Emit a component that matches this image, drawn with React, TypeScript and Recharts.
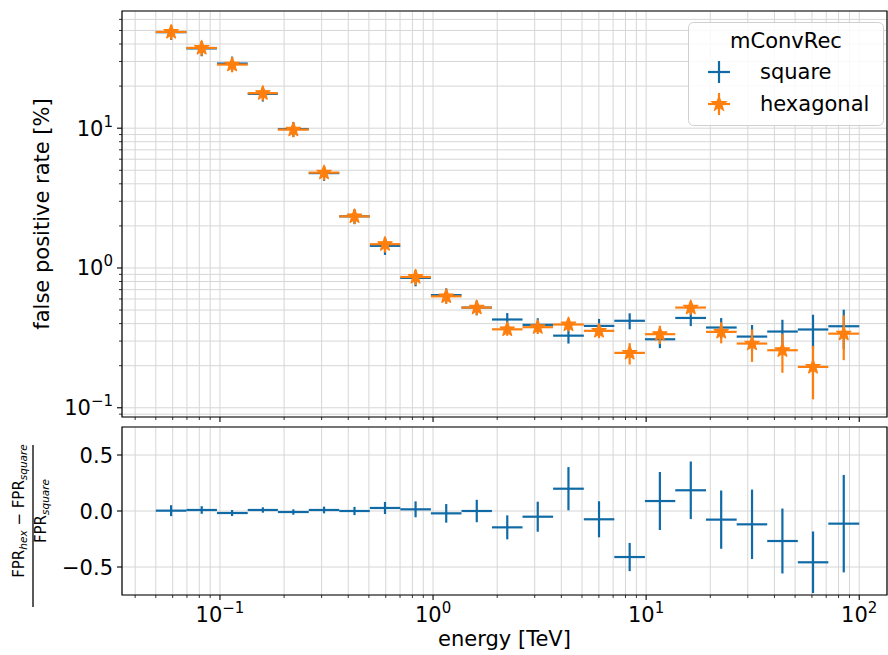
import React from "react";
import { CartesianGrid, ErrorBar, ReferenceArea, Scatter, ScatterChart, XAxis, YAxis } from "recharts";

// energy binning [TeV] (7 bins per decade)
const binEdges = [0.05, 0.0696, 0.0968, 0.135, 0.187, 0.261, 0.363, 0.505, 0.702, 0.977, 1.36, 1.89, 2.63, 3.66, 5.1, 7.09, 9.87, 13.7, 19.1, 26.6, 37.0, 51.5, 71.6, 100];
const energy = [0.059, 0.0821, 0.114, 0.159, 0.221, 0.308, 0.428, 0.595, 0.828, 1.153, 1.604, 2.23, 3.1, 4.32, 6.01, 8.37, 11.6, 16.2, 22.5, 31.4, 43.6, 60.7, 84.6];

// false positive rate [%]
const squareFpr = [48.6, 37.2, 29.0, 17.6, 9.86, 4.77, 2.34, 1.44, 0.849, 0.64, 0.521, 0.428, 0.392, 0.328, 0.385, 0.419, 0.309, 0.439, 0.375, 0.323, 0.351, 0.363, 0.383];
const squareErr = [5.8, 4.5, 3.5, 2.1, 1.2, 0.57, 0.28, 0.2, 0.11, 0.075, 0.062, 0.048, 0.045, 0.04, 0.047, 0.055, 0.042, 0.055, 0.063, 0.068, 0.075, 0.1, 0.12];
const hexFpr = [48.8, 37.5, 28.5, 17.8, 9.77, 4.81, 2.34, 1.48, 0.862, 0.627, 0.521, 0.364, 0.377, 0.394, 0.355, 0.247, 0.336, 0.521, 0.349, 0.288, 0.258, 0.196, 0.339];
const hexErr = [5.8, 4.5, 3.4, 2.1, 1.15, 0.57, 0.28, 0.19, 0.11, 0.075, 0.062, 0.037, 0.04, 0.042, 0.04, 0.043, 0.05, 0.058, 0.06, 0.075, 0.08, 0.081, 0.12];

// (FPR_hex - FPR_square) / FPR_square
const relDiff = [0.003, 0.009, -0.018, 0.009, -0.009, 0.009, 0.0, 0.027, 0.015, -0.021, 0.0, -0.146, -0.051, 0.199, -0.074, -0.411, 0.089, 0.185, -0.077, -0.119, -0.268, -0.458, -0.113];
const relDiffErr = [0.049, 0.034, 0.027, 0.024, 0.024, 0.03, 0.037, 0.054, 0.071, 0.083, 0.1, 0.107, 0.134, 0.193, 0.161, 0.126, 0.259, 0.257, 0.26, 0.31, 0.29, 0.275, 0.435];

// axis ticks (major + minor, log axes)
const energyTicks = [0.04, 0.05, 0.06, 0.07, 0.08, 0.09, 0.1, 0.2, 0.3, 0.4, 0.5, 0.6, 0.7, 0.8, 0.9, 1, 2, 3, 4, 5, 6, 7, 8, 9, 10, 20, 30, 40, 50, 60, 70, 80, 90, 100];
const fprTicks = [0.09, 0.1, 0.2, 0.3, 0.4, 0.5, 0.6, 0.7, 0.8, 0.9, 1, 2, 3, 4, 5, 6, 7, 8, 9, 10, 20, 30, 40, 50, 60];
const diffTicks = [-0.5, 0, 0.5];

const energyDomain = [0.0347, 135];
const fprDomain = [0.0859, 68.9];
const diffDomain = [-0.75, 0.75];

const BLUE = "#0f6aa6";
const ORANGE = "#ff7f0e";
const GRID = "#d6d6d6";
const FONT = "DejaVu Sans";
const FS = 21;

const rows = (ys: number[], errs: number[]) =>
  energy.map((e, i) => ({
    x: e,
    y: ys[i],
    xErr: [e - binEdges[i], binEdges[i + 1] - e],
    yErr: errs[i],
  }));

const squareRows = rows(squareFpr, squareErr);
const hexRows = rows(hexFpr, hexErr);
const diffRows = rows(relDiff, relDiffErr);

function isMajor(v: number) {
  const l = Math.log10(v);
  return Math.abs(l - Math.round(l)) < 1e-6;
}

function expLabel(v: number) {
  return String(Math.round(Math.log10(v))).replace("-", "\u2212");
}

function starPoints(cx: number, cy: number, r: number) {
  const pts: string[] = [];
  for (let i = 0; i < 10; i++) {
    const a = -Math.PI / 2 + (i * Math.PI) / 5;
    const rr = i % 2 === 0 ? r : r * 0.42;
    pts.push(`${cx + rr * Math.cos(a)},${cy + rr * Math.sin(a)}`);
  }
  return pts.join(" ");
}

const Star = (props: any) => {
  const { cx, cy } = props;
  if (cx == null || cy == null) return <g />;
  return <polygon points={starPoints(cx, cy, 7.5)} fill={ORANGE} stroke={ORANGE} strokeWidth={1.2} strokeLinejoin="round" />;
};

const NoMarker = () => <g />;

const Pow10 = ({ x, y, exp, anchor }: { x: number; y: number; exp: string; anchor: "middle" | "end" }) => (
  <text x={x} y={y} textAnchor={anchor} fontFamily={FONT} fontSize={FS} fill="#000">
    <tspan>10</tspan>
    <tspan dy={-9} fontSize={15}>{exp}</tspan>
  </text>
);

const EnergyTick = (props: any) => {
  const { x, y, payload, withLabels } = props;
  const v = payload.value;
  const major = isMajor(v);
  return (
    <g>
      <line x1={x} x2={x} y1={y} y2={y + (major ? 5 : 3)} stroke="#000" strokeWidth={major ? 1.1 : 0.8} />
      {withLabels && major && <Pow10 x={x} y={y + 27} exp={expLabel(v)} anchor="middle" />}
    </g>
  );
};

const FprTick = (props: any) => {
  const { x, y, payload } = props;
  const v = payload.value;
  const major = isMajor(v);
  return (
    <g>
      <line x1={x - (major ? 5 : 3)} x2={x} y1={y} y2={y} stroke="#000" strokeWidth={major ? 1.1 : 0.8} />
      {major && <Pow10 x={x - 9} y={y + 7.5} exp={expLabel(v)} anchor="end" />}
    </g>
  );
};

const DiffTick = (props: any) => {
  const { x, y, payload } = props;
  const v = payload.value as number;
  return (
    <g>
      <line x1={x - 5} x2={x} y1={y} y2={y} stroke="#000" strokeWidth={1.1} />
      <text x={x - 9} y={y + 7.5} textAnchor="end" fontFamily={FONT} fontSize={FS} fill="#000">
        {v.toFixed(1).replace("-", "\u2212")}
      </text>
    </g>
  );
};

const FprLabel = () => (
  <text transform="translate(42,214) rotate(-90)" textAnchor="middle" dominantBaseline="central" fontFamily={FONT} fontSize={FS} fill="#000">
    false positive rate [%]
  </text>
);

const EnergyLabel = () => (
  <text x={504.5} y={221} textAnchor="middle" fontFamily={FONT} fontSize={FS} fill="#000">
    energy [TeV]
  </text>
);

const DiffLabel = () => (
  <g fontFamily={FONT} fill="#000">
    <text transform="translate(24,86) rotate(-90)" textAnchor="middle" fontSize={15}>
      <tspan>FPR</tspan>
      <tspan fontSize={10.5} fontStyle="italic" dy={3}>hex</tspan>
      <tspan dy={-3}> {"\u2212"} FPR</tspan>
      <tspan fontSize={10.5} fontStyle="italic" dy={3}>square</tspan>
    </text>
    <line x1={33} x2={33} y1={20} y2={182} stroke="#000" strokeWidth={1.3} />
    <text transform="translate(46,86) rotate(-90)" textAnchor="middle" fontSize={15}>
      <tspan>FPR</tspan>
      <tspan fontSize={10.5} fontStyle="italic" dy={3}>square</tspan>
    </text>
  </g>
);

const Legend = () => (
  <svg
    width={196}
    height={104}
    style={{ position: "absolute", left: 688, top: 22 }}
  >
    <rect x={0.5} y={0.5} width={195} height={103} rx={5} fill="rgba(255,255,255,0.85)" stroke="#d0d0d0" />
    <text x={98} y={26} textAnchor="middle" fontFamily={FONT} fontSize={FS}>mConvRec</text>
    <line x1={20} x2={42} y1={50} y2={50} stroke={BLUE} strokeWidth={2.2} />
    <line x1={31} x2={31} y1={39} y2={61} stroke={BLUE} strokeWidth={2.2} />
    <text x={72} y={57} fontFamily={FONT} fontSize={FS}>square</text>
    <line x1={20} x2={42} y1={82} y2={82} stroke={ORANGE} strokeWidth={2.2} />
    <line x1={31} x2={31} y1={71} y2={93} stroke={ORANGE} strokeWidth={2.2} />
    <polygon points={starPoints(31, 82, 7.5)} fill={ORANGE} stroke={ORANGE} strokeWidth={1.2} />
    <text x={72} y={89} fontFamily={FONT} fontSize={FS}>hexagonal</text>
  </svg>
);

export default function App() {
  return (
    <div style={{ position: "absolute", left: 0, top: 0, width: 888, height: 655, background: "#fff" }}>
      <div style={{ position: "absolute", left: 0, top: 0 }}>
        <ScatterChart width={888} height={425} margin={{ top: 11, right: 1, bottom: 0, left: 0 }}>
          <CartesianGrid stroke={GRID} strokeWidth={1} />
          <XAxis
            dataKey="x"
            type="number"
            scale="log"
            domain={energyDomain}
            allowDataOverflow
            ticks={energyTicks}
            interval={0}
            height={8}
            tickSize={0}
            tickMargin={0}
            axisLine={false}
            tickLine={false}
            tick={(p: any) => <EnergyTick {...p} withLabels={false} />}
          />
          <YAxis
            dataKey="y"
            type="number"
            scale="log"
            domain={fprDomain}
            allowDataOverflow
            ticks={fprTicks}
            interval={0}
            width={122}
            tickSize={0}
            tickMargin={0}
            axisLine={false}
            tickLine={false}
            tick={(p: any) => <FprTick {...p} />}
            label={<FprLabel />}
          />
          <ReferenceArea x1={energyDomain[0]} x2={energyDomain[1]} y1={fprDomain[0]} y2={fprDomain[1]} fill="none" stroke="#000" strokeWidth={1.2} ifOverflow="visible" />
          <Scatter data={squareRows} shape={NoMarker} isAnimationActive={false}>
            <ErrorBar dataKey="xErr" direction="x" width={0} stroke={BLUE} strokeWidth={2.2} isAnimationActive={false} />
            <ErrorBar dataKey="yErr" direction="y" width={0} stroke={BLUE} strokeWidth={2.2} isAnimationActive={false} />
          </Scatter>
          <Scatter data={hexRows} shape={Star} isAnimationActive={false}>
            <ErrorBar dataKey="xErr" direction="x" width={0} stroke={ORANGE} strokeWidth={2.2} isAnimationActive={false} />
            <ErrorBar dataKey="yErr" direction="y" width={0} stroke={ORANGE} strokeWidth={2.2} isAnimationActive={false} />
          </Scatter>
        </ScatterChart>
        <Legend />
      </div>
      <div style={{ position: "absolute", left: 0, top: 425 }}>
        <ScatterChart width={888} height={230} margin={{ top: 2, right: 1, bottom: 0, left: 0 }}>
          <CartesianGrid stroke={GRID} strokeWidth={1} />
          <XAxis
            dataKey="x"
            type="number"
            scale="log"
            domain={energyDomain}
            allowDataOverflow
            ticks={energyTicks}
            interval={0}
            height={60}
            tickSize={0}
            tickMargin={0}
            axisLine={false}
            tickLine={false}
            tick={(p: any) => <EnergyTick {...p} withLabels={true} />}
            label={<EnergyLabel />}
          />
          <YAxis
            dataKey="y"
            type="number"
            domain={diffDomain}
            allowDataOverflow
            ticks={diffTicks}
            interval={0}
            width={122}
            tickSize={0}
            tickMargin={0}
            axisLine={false}
            tickLine={false}
            tick={(p: any) => <DiffTick {...p} />}
            label={<DiffLabel />}
          />
          <ReferenceArea x1={energyDomain[0]} x2={energyDomain[1]} y1={diffDomain[0]} y2={diffDomain[1]} fill="none" stroke="#000" strokeWidth={1.2} ifOverflow="visible" />
          <Scatter data={diffRows} shape={NoMarker} isAnimationActive={false}>
            <ErrorBar dataKey="xErr" direction="x" width={0} stroke={BLUE} strokeWidth={2.2} isAnimationActive={false} />
            <ErrorBar dataKey="yErr" direction="y" width={0} stroke={BLUE} strokeWidth={2.2} isAnimationActive={false} />
          </Scatter>
        </ScatterChart>
      </div>
    </div>
  );
}
